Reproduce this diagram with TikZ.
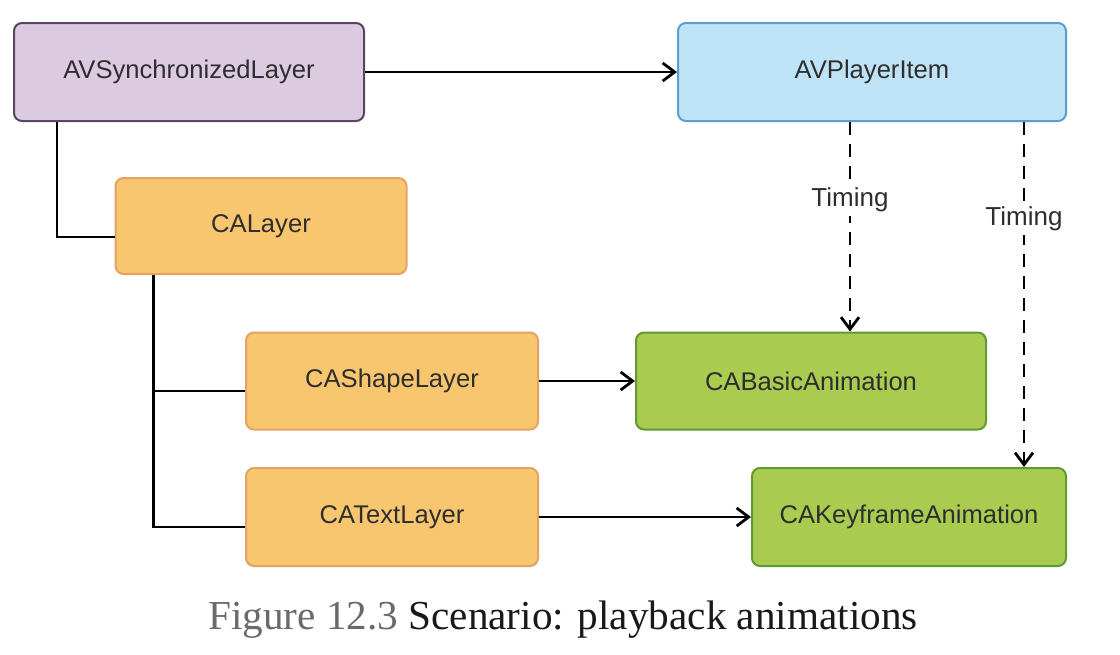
\documentclass[tikz,border=0pt]{standalone}
\usepackage{fontspec}
\setmainfont{Liberation Serif}
\setsansfont{Liberation Sans}
\usetikzlibrary{arrows.meta, positioning}
\definecolor{csyncf}{HTML}{DCCBE0}
\definecolor{csyncd}{HTML}{5B4561}
\definecolor{citemf}{HTML}{BFE3F6}
\definecolor{citemd}{HTML}{5E9CD2}
\definecolor{clayerf}{HTML}{F9C670}
\definecolor{clayerd}{HTML}{E2A462}
\definecolor{canimf}{HTML}{A9CB4F}
\definecolor{canimd}{HTML}{5F9A32}
\definecolor{ctext}{HTML}{2E2E2E}
\definecolor{cgrey}{HTML}{6A6A6A}
\tikzset{
  every picture/.style={font=\sffamily, line width=1.2pt},
  box/.style={rounded corners=4pt, line width=1pt, align=center, inner sep=0pt,
    font=\fontsize{12.8}{15}\selectfont\sffamily, text=ctext},
  syncbox/.style={box, draw=csyncd, fill=csyncf},
  itembox/.style={box, draw=citemd, fill=citemf},
  layerbox/.style={box, draw=clayerd, fill=clayerf},
  animbox/.style={box, draw=canimd, fill=canimf},
  arrow/.style={-{Straight Barb[length=6pt, width=9pt]}, draw=black, line width=1.4pt},
  tree/.style={draw=black, line width=1.4pt},
  timing/.style={arrow, dash pattern=on 6.5pt off 4.5pt},
  tlabel/.style={fill=white, inner sep=2pt, font=\fontsize{13}{15}\selectfont\sffamily, text=ctext},
  caption/.style={font=\fontsize{20.6}{24}\selectfont\rmfamily, text=black!90},
}

\begin{document}
\begin{tikzpicture}[x=0.5pt, y=-0.5pt]
  \useasboundingbox[fill=white] (0,0) rectangle (1120,654);

  % top row
  \node[syncbox, minimum width=175pt, minimum height=49pt] (sync) at (189,72) {AVSynchronizedLayer};
  \node[itembox, minimum width=194pt, minimum height=49pt] (item) at (872,72) {AVPlayerItem};

  % layer tree
  \node[layerbox, minimum width=145.5pt, minimum height=48pt] (calayer) at (261,226) {CALayer};
  \node[layerbox, minimum width=146pt, minimum height=48.5pt] (shape) at (392,381) {CAShapeLayer};
  \node[layerbox, minimum width=146pt, minimum height=49pt] (textl) at (392,517) {CATextLayer};

  % animations
  \node[animbox, minimum width=175pt, minimum height=48.5pt] (basic) at (811,381) {CABasicAnimation};
  \node[animbox, minimum width=157pt, minimum height=49pt] (keyf) at (909,517) {CAKeyframeAnimation};

  \draw[arrow] (sync) -- (item);
  \draw[tree] ([xshift=22pt]sync.south west) |- ([yshift=-5.5pt]calayer.west);
  \draw[tree] ([xshift=19.5pt]calayer.south west) |- ([yshift=-5pt]shape.west);
  \draw[tree] ([xshift=19.5pt]calayer.south west) |- ([yshift=-5pt]textl.west);
  \draw[arrow] (shape) -- (basic);
  \draw[arrow] (textl) -- (keyf);

  % timing links
  \draw[timing] ([xshift=-11pt]item.south) -- ([xshift=-11pt]item.south |- basic.north)
    node[tlabel, pos=0.37] (t1) {Timing};
  \draw[timing] ([xshift=76pt]item.south) -- ([xshift=76pt]item.south |- keyf.north)
    node[tlabel, pos=0.28] (t2) {Timing};

  \node[caption] (cap) at (563,620) {\textcolor{cgrey}{Figure 12.3} Scenario: playback animations};
\end{tikzpicture}
\end{document}
